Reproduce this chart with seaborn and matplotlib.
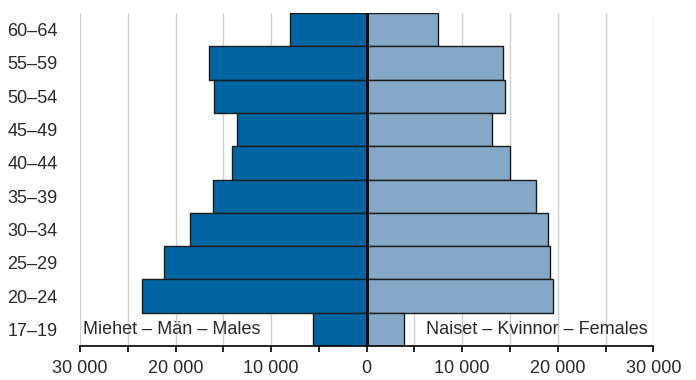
import numpy as np
import pandas as pd
import matplotlib
matplotlib.use("Agg")
import matplotlib.pyplot as plt
import seaborn as sns

ages = ["60–64", "55–59", "50–54", "45–49", "40–44",
        "35–39", "30–34", "25–29", "20–24", "17–19"]
males = [8030, 16480, 15960, 13550, 14100, 16130, 18470, 21230, 23500, 5590]
females = [7500, 14240, 14510, 13090, 15010, 17700, 19020, 19230, 19540, 3940]
x_ticks = list(range(-30000, 30001, 5000))

MALE_COLOR = "#0066a3"
FEMALE_COLOR = "#84a8c5"
TEXT_COLOR = "#2a2a2a"

sns.set_style("white")
plt.rcParams["font.family"] = ["Liberation Sans", "DejaVu Sans"]

df = pd.DataFrame({"age": ages, "male": -np.array(males), "female": females})

fig = plt.figure(figsize=(6.96, 3.8), dpi=100)
ax = fig.add_axes([80 / 696, 34 / 380, (653.3 - 80) / 696, (367 - 34) / 380])

# grid behind bars
for x in x_ticks:
    ax.axvline(x, color="#d0d0d0", lw=1.0, zorder=0)

sns.barplot(data=df, x="male", y="age", order=ages, color=MALE_COLOR,
            width=1.0, edgecolor="#1b1b1b", linewidth=1.0, saturation=1,
            ax=ax, zorder=2)
sns.barplot(data=df, x="female", y="age", order=ages, color=FEMALE_COLOR,
            width=1.0, edgecolor="#1b1b1b", linewidth=1.0, saturation=1,
            ax=ax, zorder=2)

ax.axvline(0, color="black", lw=2.0, zorder=3)

ax.set_xlim(-30000, 30000)
ax.set_ylim(len(ages) - 0.5, -0.5)
ax.set_xticks(x_ticks)
ax.set_xticklabels([f"{abs(v):,}".replace(",", " ") if v % 10000 == 0 else ""
                    for v in x_ticks])
ax.tick_params(axis="x", length=4, width=1.2, color="black", pad=6,
               labelsize=13, labelcolor=TEXT_COLOR, bottom=True)
ax.tick_params(axis="y", length=0, pad=16, labelsize=13, labelcolor=TEXT_COLOR)
ax.set_xlabel("")
ax.set_ylabel("")
for side in ["top", "right", "left"]:
    ax.spines[side].set_visible(False)
ax.spines["bottom"].set_color("black")
ax.spines["bottom"].set_linewidth(1.2)
ax.spines["bottom"].set_zorder(4)

ax.text(-29700, 9, "Miehet – Män – Males", fontsize=13, color=TEXT_COLOR,
        va="center", ha="left", zorder=5)
ax.text(29400, 9, "Naiset – Kvinnor – Females", fontsize=13, color=TEXT_COLOR,
        va="center", ha="right", zorder=5)

fig.savefig("out.png", dpi=100)
